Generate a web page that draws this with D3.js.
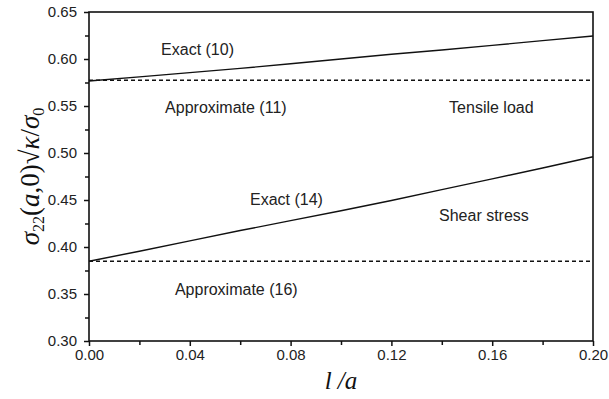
<!DOCTYPE html>
<html>
<head>
<meta charset="utf-8">
<script src="https://cdn.jsdelivr.net/npm/d3@7"></script>
<style>
  body { margin: 0; background: #fff; }
  svg { display: block; }
  .tick text { font-family: "Liberation Sans", Arial, sans-serif; font-size: 15px; fill: #222; }
  .note { font-family: "Liberation Sans", Arial, sans-serif; font-size: 16px; fill: #222; }
</style>
</head>
<body>
<div id="chart"></div>
<script>
var W = 609, H = 399;
var margin = {top: 12, right: 16, bottom: 58, left: 89};

// l/a values
var xs = [0, 0.02, 0.04, 0.06, 0.08, 0.10, 0.12, 0.14, 0.16, 0.18, 0.20];
// Exact (10), tensile load
var exact10 = [0.5766, 0.581, 0.5855, 0.590, 0.595, 0.600, 0.605, 0.6095, 0.6145, 0.6195, 0.6245];
// Exact (14), shear stress
var exact14 = [0.3849, 0.3955, 0.4065, 0.4175, 0.428, 0.4385, 0.4495, 0.461, 0.4725, 0.484, 0.496];
// Approximate (11) and (16), constants
var approx11 = 0.5774;
var approx16 = 0.3849;

var xTicks = [0, 0.04, 0.08, 0.12, 0.16, 0.20];
var xMinor = [0.02, 0.06, 0.10, 0.14, 0.18];
var yTicks = [0.30, 0.35, 0.40, 0.45, 0.50, 0.55, 0.60, 0.65];
var yMinor = [0.325, 0.375, 0.425, 0.475, 0.525, 0.575, 0.625];

// annotation anchors (left edge, middle) in data units
var labels = [
  {text: "Exact (10)", x: 0.0286, y: 0.6106},
  {text: "Approximate (11)", x: 0.0302, y: 0.549},
  {text: "Tensile load", x: 0.1429, y: 0.549},
  {text: "Exact (14)", x: 0.0639, y: 0.4511},
  {text: "Shear stress", x: 0.1389, y: 0.434},
  {text: "Approximate (16)", x: 0.0341, y: 0.3553}
];

var w = W - margin.left - margin.right,
    h = H - margin.top - margin.bottom;

var svg = d3.select("#chart").append("svg")
  .attr("width", W)
  .attr("height", H);

var g = svg.append("g")
  .attr("transform", "translate(" + margin.left + "," + margin.top + ")");

var x = d3.scaleLinear().domain([0, 0.2]).range([0, w]);
var y = d3.scaleLinear().domain([0.30, 0.65]).range([h, 0]);

// minor ticks
g.append("g")
  .attr("transform", "translate(0," + h + ")")
  .call(d3.axisBottom(x).tickValues(xMinor).tickSize(4).tickFormat(""))
  .call(s => s.select(".domain").remove());
g.append("g")
  .call(d3.axisLeft(y).tickValues(yMinor).tickSize(4).tickFormat(""))
  .call(s => s.select(".domain").remove());

// major ticks
var xAxis = g.append("g")
  .attr("transform", "translate(0," + h + ")")
  .call(d3.axisBottom(x).tickValues(xTicks).tickSize(5).tickPadding(3).tickFormat(d3.format(".2f")));
xAxis.select(".domain").remove();

var yAxis = g.append("g")
  .call(d3.axisLeft(y).tickValues(yTicks).tickSize(5).tickPadding(7).tickFormat(d3.format(".2f")));
yAxis.select(".domain").remove();

g.selectAll(".tick line").attr("stroke", "#111").attr("stroke-width", 1.5);

// frame
g.append("rect")
  .attr("x", 0).attr("y", 0)
  .attr("width", w).attr("height", h)
  .attr("fill", "none")
  .attr("stroke", "#111")
  .attr("stroke-width", 1.6);

var line = d3.line()
  .x((d, i) => x(xs[i]))
  .y(d => y(d));

// dashed approximations
[approx11, approx16].forEach(function(v) {
  g.append("line")
    .attr("x1", x(0)).attr("x2", x(0.2))
    .attr("y1", y(v)).attr("y2", y(v))
    .attr("stroke", "#111")
    .attr("stroke-width", 1.5)
    .attr("stroke-dasharray", "4,3");
});

// exact curves
[exact10, exact14].forEach(function(s) {
  g.append("path")
    .datum(s)
    .attr("d", line)
    .attr("fill", "none")
    .attr("stroke", "#111")
    .attr("stroke-width", 1.4);
});

// annotations
g.selectAll(".note")
  .data(labels)
  .enter()
  .append("text")
  .attr("class", "note")
  .attr("x", d => x(d.x))
  .attr("y", d => y(d.y))
  .attr("dy", "0.35em")
  .text(d => d.text);

// y label
var yl = svg.append("text")
  .attr("transform", "translate(39," + (margin.top + h / 2) + ") rotate(-90)")
  .attr("text-anchor", "middle")
  .attr("font-family", "'Liberation Serif', 'DejaVu Serif', serif")
  .attr("font-size", "27px")
  .attr("fill", "#111");
yl.append("tspan").attr("font-style", "italic").text("σ");
yl.append("tspan").attr("font-size", "16px").attr("dy", "5").text("22");
yl.append("tspan").attr("dy", "-5").text("(");
yl.append("tspan").attr("font-style", "italic").text("a");
yl.append("tspan").text(",0)√");
yl.append("tspan").attr("font-style", "italic").text("κ");
yl.append("tspan").text("/");
yl.append("tspan").attr("font-style", "italic").text("σ");
yl.append("tspan").attr("font-size", "16px").attr("dy", "5").text("0");

// x label
svg.append("text")
  .attr("x", margin.left + w / 2)
  .attr("y", 389)
  .attr("text-anchor", "middle")
  .attr("font-family", "'Liberation Serif', 'DejaVu Serif', serif")
  .attr("font-style", "italic")
  .attr("font-size", "25px")
  .attr("fill", "#111")
  .text("l /a");
</script>
</body>
</html>
